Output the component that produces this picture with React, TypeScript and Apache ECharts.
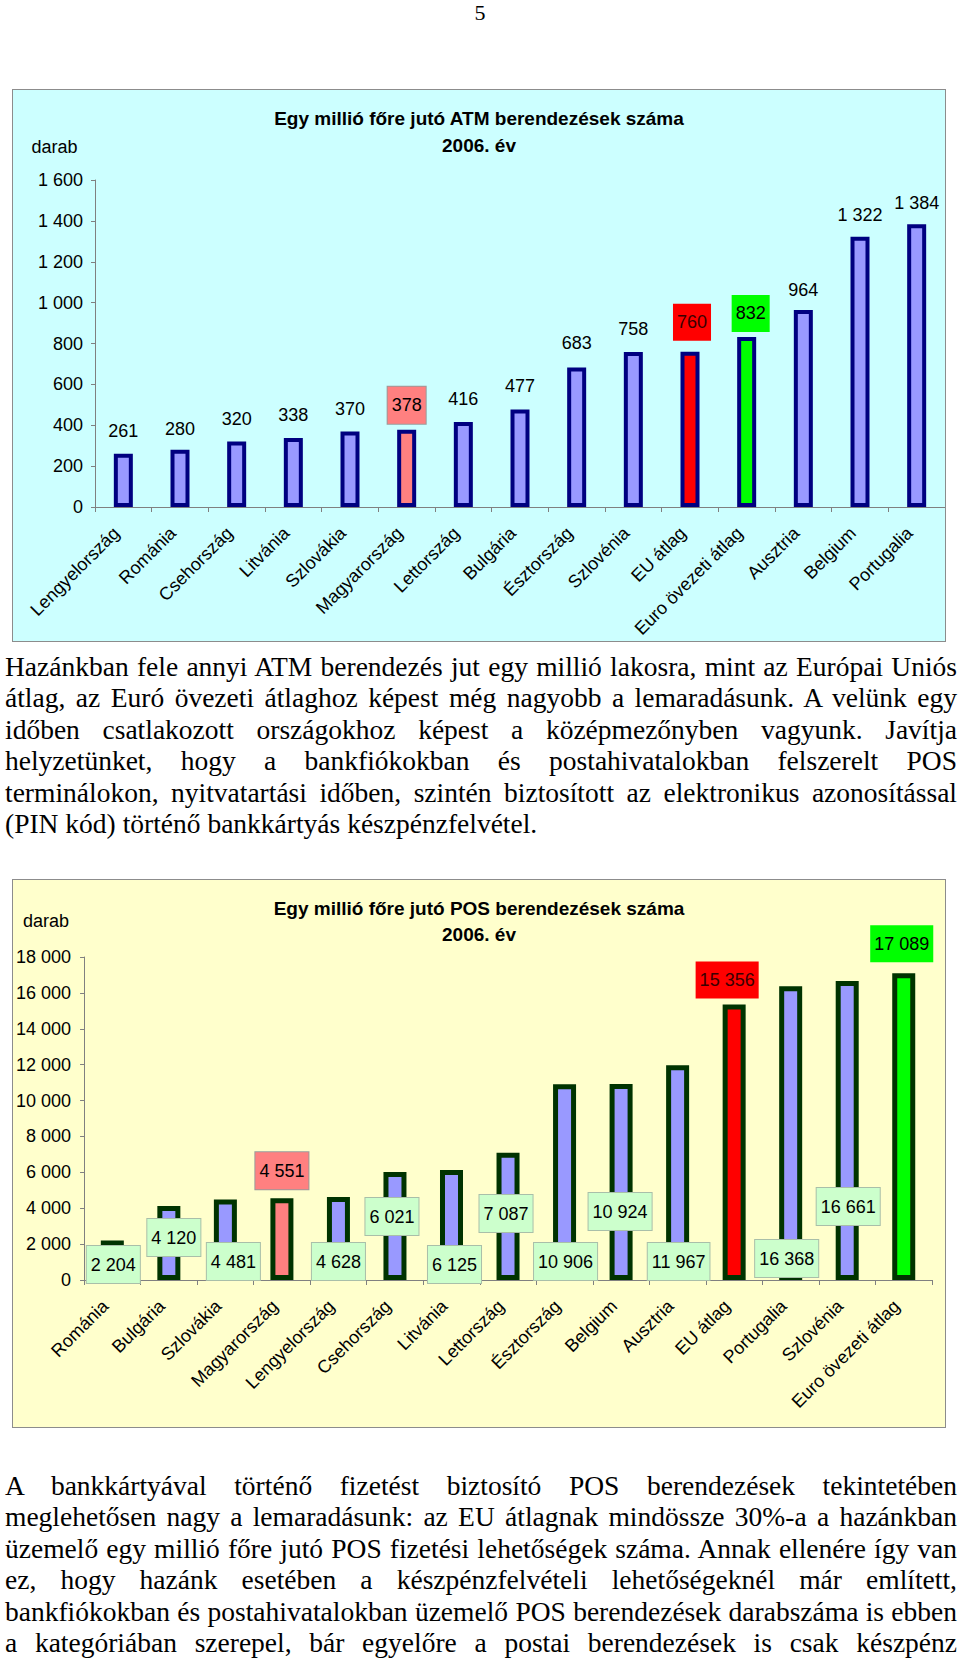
import React, { useEffect, useRef } from "react";
import * as echarts from "echarts";

// ---------- DATA ----------
const atmCategories = [
  "Lengyelország", "Románia", "Csehország", "Litvánia", "Szlovákia", "Magyarország",
  "Lettország", "Bulgária", "Észtország", "Szlovénia", "EU átlag", "Euro övezeti átlag",
  "Ausztria", "Belgium", "Portugalia",
];
const atmValues = [261, 280, 320, 338, 370, 378, 416, 477, 683, 758, 760, 832, 964, 1322, 1384];

const posCategories = [
  "Románia", "Bulgária", "Szlovákia", "Magyarország", "Lengyelország", "Csehország",
  "Litvánia", "Lettország", "Észtország", "Belgium", "Ausztria", "EU átlag",
  "Portugalia", "Szlovénia", "Euro övezeti átlag",
];
const posValues = [2204, 4120, 4481, 4551, 4628, 6021, 6125, 7087, 10906, 10924, 11967, 15356, 16368, 16661, 17089];

const atmTitle = ["Egy millió főre jutó ATM berendezések száma", "2006. év"];
const posTitle = ["Egy millió főre jutó POS berendezések száma", "2006. év"];
const unitLabel = "darab";

const para1Lines = [
  "Hazánkban fele annyi ATM berendezés jut egy millió lakosra, mint az Európai Uniós",
  "átlag, az Euró övezeti átlaghoz képest még nagyobb a lemaradásunk. A velünk egy",
  "időben csatlakozott országokhoz képest a középmezőnyben vagyunk. Javítja",
  "helyzetünket, hogy a bankfiókokban és postahivatalokban felszerelt POS",
  "terminálokon, nyitvatartási időben, szintén biztosított az elektronikus azonosítással",
  "(PIN kód) történő bankkártyás készpénzfelvétel.",
];
const para2Lines = [
  "A bankkártyával történő fizetést biztosító POS berendezések tekintetében",
  "meglehetősen nagy a lemaradásunk: az EU átlagnak mindössze 30%-a a hazánkban",
  "üzemelő egy millió főre jutó POS fizetési lehetőségek száma. Annak ellenére így van",
  "ez, hogy hazánk esetében a készpénzfelvételi lehetőségeknél már említett,",
  "bankfiókokban és postahivatalokban üzemelő POS berendezések darabszáma is ebben",
  "a kategóriában szerepel, bár egyelőre a postai berendezések is csak készpénz",
];

// ---------- STYLES ----------
const FONT = '"Liberation Sans", Arial, sans-serif';
const SERIF = '"Liberation Serif", "Times New Roman", serif';
const BAR_FILL = "#9999FF";
const highlight: Record<string, { fill: string; label: string; border?: string }> = {
  "Magyarország": { fill: "#FF8080", label: "#FF8080", border: "#9A9A9A" },
  "EU átlag": { fill: "#FF0000", label: "#FF0000" },
  "Euro övezeti átlag": { fill: "#00FF00", label: "#00FF00" },
};

// label placement per bar (style only)
const atmLabelPlace = [
  { p: "top", d: 14, dx: 0 }, { p: "top", d: 12, dx: 0 }, { p: "top", d: 14, dx: 0 },
  { p: "top", d: 14, dx: 0 }, { p: "top", d: 13, dx: 0 }, { p: "top", d: 6, dx: 0 },
  { p: "top", d: 14, dx: 0 }, { p: "top", d: 15, dx: 0 }, { p: "top", d: 15, dx: 0 },
  { p: "top", d: 14, dx: 0 }, { p: "top", d: 11, dx: 2 }, { p: "top", d: 5, dx: 4 },
  { p: "top", d: 11, dx: 0 }, { p: "top", d: 13, dx: 0 }, { p: "top", d: 12, dx: 0 },
];
const posLabelPlace = [
  { p: "insideBottom", d: -3, dx: 1 },
  { p: "insideBottom", d: 24, dx: 5 },
  { p: "insideBottom", d: 0, dx: 8 },
  { p: "top", d: 9, dx: 0 },
  { p: "insideBottom", d: 0, dx: 0 },
  { p: "insideBottom", d: 45, dx: -3 },
  { p: "insideBottom", d: -3, dx: 3 },
  { p: "insideBottom", d: 48, dx: -2 },
  { p: "insideBottom", d: 0, dx: 1 },
  { p: "insideBottom", d: 50, dx: -1 },
  { p: "insideBottom", d: 0, dx: 1 },
  { p: "top", d: 6, dx: -7 },
  { p: "insideBottom", d: 3, dx: -4 },
  { p: "insideBottom", d: 55, dx: 1 },
  { p: "top", d: 11, dx: -2 },
];

const fmt = (v: number) => String(v).replace(/\B(?=(\d{3})+(?!\d))/g, " ");

function textEl(text: string, x: number, y: number, bold: boolean, size: number) {
  return {
    type: "text",
    x,
    y,
    silent: true,
    style: {
      text,
      fill: "#000",
      font: `${bold ? "bold " : ""}${size}px ${FONT}`,
      fontSize: size,
      fontWeight: bold ? "bold" : "normal",
      fontFamily: FONT,
      textAlign: "center",
      align: "center",
      textVerticalAlign: "middle",
      verticalAlign: "middle",
    },
  };
}

interface Cfg {
  categories: string[];
  values: number[];
  bg: string;
  title: string[];
  titleY: [number, number];
  unitPos: [number, number];
  grid: { left: number; right: number; top: number; bottom: number };
  max: number;
  interval: number;
  yMargin: number;
  barWidth: number;
  borderColor: string;
  borderWidth: number;
  place: { p: string; d: number; dx: number }[];
  boxAll: boolean;
}

function buildOption(c: Cfg) {
  const data = c.values.map((v, i) => {
    const h = highlight[c.categories[i]];
    const pl = c.place[i];
    const boxed = c.boxAll || !!h;
    const label: any = {
      show: true,
      position: pl.p,
      distance: pl.d,
      offset: [pl.dx, 0],
      formatter: () => fmt(v),
      fontSize: 18,
      fontFamily: FONT,
      color: "#000",
    };
    if (boxed) {
      label.backgroundColor = h ? h.label : "#CCFFCC";
      label.borderColor = h ? h.border || "transparent" : "#A9BFA9";
      label.borderWidth = h && !h.border ? 0 : 1;
      label.padding = [8, 4, 8, 4];
      label.lineHeight = 21;
      if (h && h.fill === "#FF0000") label.color = "#3A0000";
    }
    return {
      value: v,
      itemStyle: { color: h ? h.fill : BAR_FILL },
      label,
    };
  });
  return {
    animation: false,
    backgroundColor: c.bg,
    textStyle: { fontFamily: FONT },
    grid: { ...c.grid, containLabel: false },
    graphic: [
      textEl(c.title[0], 466, c.titleY[0], true, 19),
      textEl(c.title[1], 466, c.titleY[1], true, 19),
      textEl(unitLabel, c.unitPos[0], c.unitPos[1], false, 18),
    ],
    xAxis: {
      type: "category",
      data: c.categories,
      axisLine: { show: true, lineStyle: { color: "#808080", width: 1 } },
      axisTick: { show: true, length: 5, lineStyle: { color: "#808080" } },
      axisLabel: {
        interval: 0,
        rotate: 45,
        fontSize: 18,
        fontFamily: FONT,
        color: "#000",
        margin: 16,
        padding: [0, 10, 0, 0],
      },
    },
    yAxis: {
      type: "value",
      min: 0,
      max: c.max,
      interval: c.interval,
      axisLine: { show: true, lineStyle: { color: "#808080", width: 1 } },
      axisTick: { show: true, length: 4, lineStyle: { color: "#808080" } },
      splitLine: { show: false },
      axisLabel: {
        formatter: (v: number) => fmt(v),
        fontSize: 18,
        fontFamily: FONT,
        color: "#000",
        margin: c.yMargin,
      },
    },
    series: [
      {
        type: "bar",
        barWidth: c.barWidth,
        itemStyle: { borderColor: c.borderColor, borderWidth: c.borderWidth },
        data,
      },
    ],
  };
}

function ChartPanel({ left, top, width, height, option }: any) {
  const ref = useRef<HTMLDivElement>(null);
  useEffect(() => {
    const chart = echarts.init(ref.current as HTMLDivElement, null, { renderer: "svg" });
    chart.setOption(option);
    return () => chart.dispose();
  }, []);
  return (
    <div
      style={{
        position: "absolute",
        left,
        top,
        width,
        height,
        border: "1px solid #8C8C8C",
        boxSizing: "border-box",
      }}
    >
      <div ref={ref} style={{ width: "100%", height: "100%" }} />
    </div>
  );
}

function Paragraph({ lines, top, lastLeft }: { lines: string[]; top: number; lastLeft: boolean }) {
  return (
    <div
      style={{
        position: "absolute",
        left: 5,
        top,
        width: 952,
        fontFamily: SERIF,
        fontSize: 27.5,
        lineHeight: "31.4px",
        color: "#000",
      }}
    >
      {lines.map((l, i) => {
        const last = lastLeft && i === lines.length - 1;
        return (
          <div
            key={i}
            style={{
              textAlign: last ? "left" : "justify",
              textAlignLast: last ? "left" : "justify",
              whiteSpace: "normal",
            }}
          >
            {l}
          </div>
        );
      })}
    </div>
  );
}

export default function App() {
  const atmOption = buildOption({
    categories: atmCategories,
    values: atmValues,
    bg: "#CCFFFF",
    title: atmTitle,
    titleY: [28, 55],
    unitPos: [41.5, 57],
    grid: { left: 82, right: 0, top: 90, bottom: 134 },
    max: 1600,
    interval: 200,
    yMargin: 12,
    barWidth: 19,
    borderColor: "#000080",
    borderWidth: 4,
    place: atmLabelPlace,
    boxAll: false,
  });
  const posOption = buildOption({
    categories: posCategories,
    values: posValues,
    bg: "#FFFFCC",
    title: posTitle,
    titleY: [28, 54],
    unitPos: [33, 41],
    grid: { left: 69, right: 13, top: 77, bottom: 147 },
    max: 18000,
    interval: 2000,
    yMargin: 13,
    barWidth: 23,
    borderColor: "#003300",
    borderWidth: 5,
    place: posLabelPlace,
    boxAll: true,
  });

  return (
    <div
      style={{
        position: "absolute",
        left: 0,
        top: 0,
        width: 960,
        height: 1660,
        overflow: "hidden",
        background: "#fff",
      }}
    >
      <div
        style={{
          position: "absolute",
          left: 0,
          top: 1,
          width: 960,
          textAlign: "center",
          fontFamily: SERIF,
          fontSize: 22,
          lineHeight: "24px",
        }}
      >
        5
      </div>
      <ChartPanel left={12} top={89} width={934} height={553} option={atmOption} />
      <Paragraph lines={para1Lines} top={651} lastLeft={true} />
      <ChartPanel left={12} top={879} width={934} height={549} option={posOption} />
      <Paragraph lines={para2Lines} top={1470} lastLeft={false} />
    </div>
  );
}
